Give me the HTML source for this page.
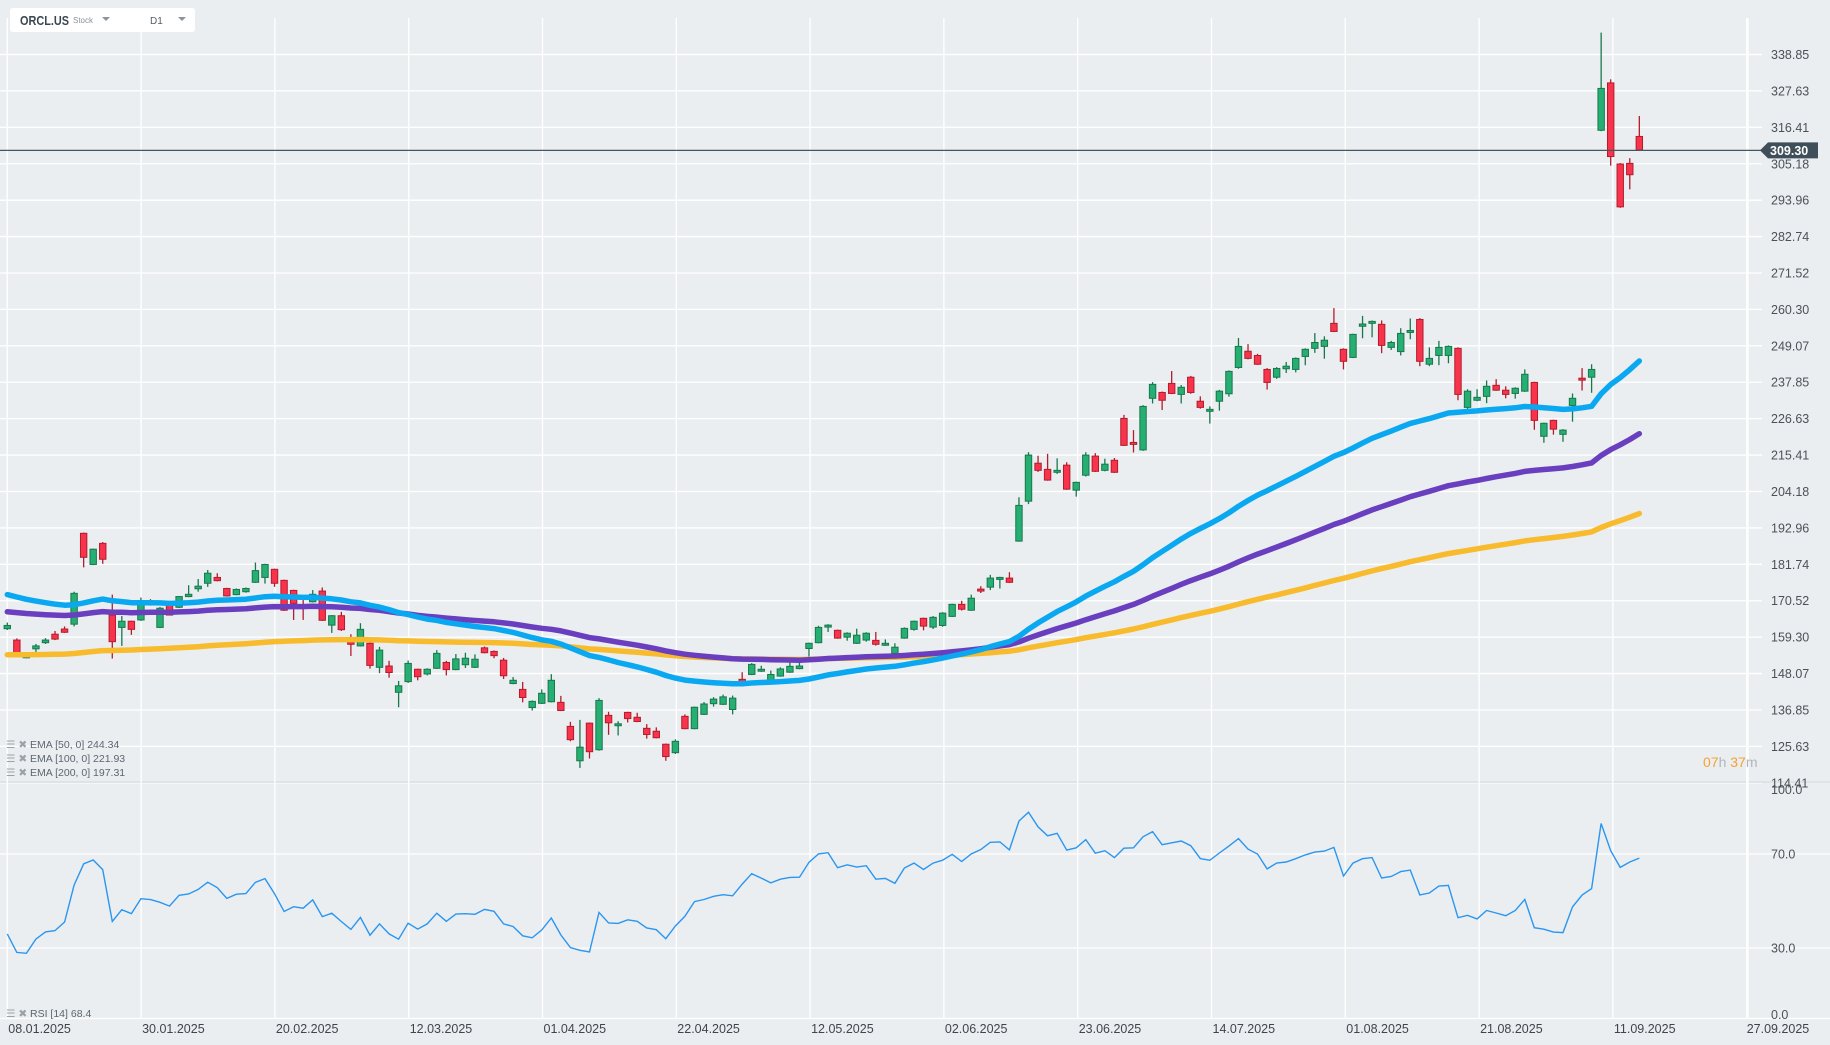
<!DOCTYPE html>
<html><head><meta charset="utf-8"><style>
html,body{margin:0;padding:0;background:#ebeef1;}
svg{display:block;font-family:"Liberation Sans",sans-serif;}
</style></head><body>
<svg id="chart" width="1830" height="1045" viewBox="0 0 1830 1045">
<rect x="0" y="0" width="1830" height="1045" fill="#ebeef1"/>
<g id="grid"></g>
<g id="candles"></g>
<g id="emas"></g>
<g id="rsi"></g>
<g id="axes"></g>
<g>
<rect x="10" y="8" width="185" height="24" rx="3" fill="#ffffff"/>
<text x="20" y="25" font-size="13" font-weight="bold" fill="#3a4650" textLength="49" lengthAdjust="spacingAndGlyphs">ORCL.US</text>
<text x="73" y="23" font-size="8" fill="#8a949c">Stock</text>
<path d="M102 17 L110 17 L106 21 Z" fill="#8a949c"/>
<text x="150" y="24" font-size="10" fill="#555e66">D1</text>
<path d="M178 17 L186 17 L182 21 Z" fill="#8a949c"/>
</g>
<g font-size="10.5" fill="#5c6670">
<text x="6" y="748" fill="#9aa2a8">☰ ✖</text>
<text x="30" y="748">EMA  [50,  0]  244.34</text>
<text x="6" y="762" fill="#9aa2a8">☰ ✖</text>
<text x="30" y="762">EMA  [100,  0]  221.93</text>
<text x="6" y="776" fill="#9aa2a8">☰ ✖</text>
<text x="30" y="776">EMA  [200,  0]  197.31</text>
<text x="6" y="1017" fill="#9aa2a8">☰ ✖</text>
<text x="30" y="1017">RSI  [14]  68.4</text>
</g>
<g font-size="14">
<text x="1703" y="767"><tspan fill="#f5a133">07</tspan><tspan fill="#b0b6bb">h </tspan><tspan fill="#f5a133">37</tspan><tspan fill="#b0b6bb">m</tspan></text>
</g>
</svg>
<script>
const opens=[161.9,158.4,153.0,155.7,157.6,160.2,161.8,163.3,191.3,181.7,188.2,166.1,162.3,164.2,164.6,170.0,162.3,169.7,168.5,171.8,174.2,175.9,177.7,174.3,172.4,173.3,176.2,177.7,180.2,176.8,173.7,169.2,170.2,173.5,163.0,165.9,158.9,156.6,157.4,150.0,150.4,142.3,145.6,149.4,147.95,149.7,151.5,149.3,150.8,150.0,156.0,154.9,152.2,145.0,143.2,137.6,138.9,139.4,139.2,131.8,121.2,132.8,124.6,135.2,132.0,136.1,134.6,131.2,130.3,126.3,123.7,134.9,131.1,135.5,138.8,138.6,137.0,146.3,147.8,148.8,146.1,147.3,148.5,149.6,155.8,157.6,162.4,161.4,159.3,157.4,158.4,158.3,156.8,154.3,159.0,161.7,165.1,162.4,162.9,165.7,169.4,167.6,174.1,174.7,177.1,177.5,188.9,201.2,212.9,211.0,210.1,212.3,204.6,209.2,215.1,210.7,213.8,226.7,219.3,217.0,232.9,234.7,237.5,234.1,239.4,232.0,228.9,232.0,234.3,242.4,247.4,246.1,241.8,239.4,242.0,241.8,245.8,248.3,248.9,256.0,248.0,245.5,255.1,256.0,255.7,248.6,247.3,253.2,257.2,243.4,246.1,246.1,248.3,230.1,232.3,233.5,236.9,235.4,234.4,235.1,237.8,221.2,226.1,221.8,230.7,239.1,239.4,315.5,330.1,305.1,305.3,313.6];
const closes=[162.9,153.8,153.3,156.6,158.4,158.7,160.8,172.8,183.9,186.4,183.3,157.9,164.2,161.7,170.2,169.7,168.2,166.1,171.8,172.5,175.0,179.0,176.7,172.0,174.0,174.3,179.8,181.7,175.9,167.6,169.7,169.0,172.5,164.5,165.9,161.6,157.1,161.7,150.6,155.3,148.4,144.3,151.2,147.1,149.4,154.3,149.3,152.6,152.8,152.5,154.5,153.6,147.4,146.0,140.7,139.5,142.0,146.0,136.7,127.7,125.4,124.0,139.8,132.9,132.6,134.2,133.3,129.3,128.3,122.5,127.2,131.1,137.7,138.7,140.2,140.9,140.5,145.6,150.9,149.4,147.8,149.5,150.3,150.4,157.4,162.3,163.0,159.0,160.5,159.9,160.5,157.1,157.4,156.2,162.0,164.2,162.7,165.4,166.7,169.4,167.9,171.3,173.5,177.5,177.7,176.2,199.9,215.4,210.7,207.7,210.7,204.9,207.0,215.4,210.4,212.6,210.1,218.4,218.7,230.4,237.2,232.3,234.4,236.3,234.7,230.1,229.5,235.1,241.2,248.9,245.2,243.4,237.8,242.1,242.8,245.2,248.0,250.1,250.8,253.5,244.3,252.6,255.8,256.6,249.2,250.1,252.9,253.8,244.3,245.2,248.6,248.9,234.1,235.1,233.2,236.6,235.4,234.1,236.0,240.3,226.1,225.2,223.4,223.1,232.9,238.5,241.8,328.4,307.4,291.9,301.8,309.4];
const highs=[163.8,158.9,153.6,157.2,159.0,161.2,162.6,173.3,191.5,186.6,188.6,172.4,165.8,164.4,171.5,171.0,168.6,170.0,172.0,175.3,177.2,180.0,179.0,174.5,174.3,174.6,182.3,181.9,180.4,177.0,173.9,171.5,173.8,174.6,166.1,167.1,160.2,163.6,157.6,156.3,152.0,145.8,152.1,149.6,149.7,155.3,152.0,154.1,154.5,154.0,156.4,155.2,152.9,147.0,145.5,139.8,143.2,147.9,141.2,133.2,133.8,133.0,140.5,136.3,133.4,136.3,136.0,132.5,131.5,126.5,127.8,135.5,137.9,139.3,140.8,141.6,141.3,148.5,151.3,150.5,149.0,150.0,151.5,151.6,157.6,162.8,163.3,161.6,160.8,161.9,160.8,160.9,158.6,157.4,162.3,164.4,165.3,165.8,167.0,169.6,170.5,172.4,175.0,178.5,177.9,179.3,202.4,216.3,215.2,215.8,214.4,213.2,207.2,216.3,216.0,214.3,214.5,227.8,223.1,230.8,237.9,235.0,241.3,237.0,239.8,233.5,230.4,235.5,241.5,251.5,249.6,246.6,242.2,242.5,244.1,245.5,248.3,253.0,252.0,260.7,248.3,252.8,258.3,256.9,256.9,250.6,254.5,257.5,257.6,248.6,250.6,249.2,248.6,235.7,235.7,238.4,238.8,236.6,236.3,241.8,238.0,225.4,226.3,223.4,234.4,242.2,243.4,345.6,331.2,305.4,306.9,319.9];
const lows=[161.5,153.3,152.8,154.2,157.2,158.4,160.6,162.6,180.8,181.5,181.9,152.7,156.6,160.0,164.3,169.0,162.1,166.0,168.3,171.6,173.3,174.8,176.5,171.8,172.2,173.0,176.0,175.8,174.8,167.4,164.6,164.6,170.0,164.3,160.6,161.2,153.5,156.4,149.6,148.2,146.8,137.7,145.2,146.0,147.5,149.5,147.5,149.1,149.8,149.8,154.3,152.8,146.4,144.8,139.2,136.7,138.7,139.2,136.5,127.2,119.0,121.9,124.3,129.2,129.0,133.0,133.1,128.0,128.1,121.2,123.3,130.9,130.9,135.3,137.9,138.4,135.5,145.4,147.6,148.6,145.9,147.1,148.3,149.4,153.2,157.4,160.9,158.8,158.2,157.2,157.9,156.7,156.6,154.1,158.8,161.3,161.4,161.8,162.5,165.5,167.5,167.4,172.9,173.8,174.3,176.0,188.7,200.3,210.2,207.5,209.6,204.7,202.6,208.8,210.2,210.4,209.9,218.2,216.2,216.7,231.3,229.3,234.2,231.3,234.3,229.7,225.1,229.1,233.4,242.0,244.9,243.2,235.6,238.9,240.7,240.9,243.1,246.9,245.1,253.3,241.8,245.3,251.4,251.7,246.8,247.8,246.1,251.1,242.8,242.8,243.1,243.7,232.3,229.5,232.0,231.4,235.2,232.9,232.8,234.9,223.2,219.2,221.7,219.5,225.7,235.3,234.6,315.2,304.6,291.6,297.3,309.2];
const priceTicks=[338.85,327.63,316.41,305.18,293.96,282.74,271.52,260.30,249.07,237.85,226.63,215.41,204.18,192.96,181.74,170.52,159.30,148.07,136.85,125.63,114.41];
const dateLabels=["08.01.2025","30.01.2025","20.02.2025","12.03.2025","01.04.2025","22.04.2025","12.05.2025","02.06.2025","23.06.2025","14.07.2025","01.08.2025","21.08.2025","11.09.2025","27.09.2025"];
const rsiTicks=[100,70,30,0];
const emaPeriods=[50,100,200];
const emaSeeds=[172.8,167.2,153.8];
const emaColors=["#0aa8f0","#6a3fbf","#f8bb2e"];
const rsiSeedGain=[0.9];
const rsiSeedLoss=[1.6];
const lastPrice=309.30;

const NS="http://www.w3.org/2000/svg";
function el(tag,attrs,parent){const e=document.createElementNS(NS,tag);for(const k in attrs)e.setAttribute(k,attrs[k]);parent.appendChild(e);return e;}
const xC=i=>7.3+i*9.544;
const yP=p=>54.5+(338.85-p)*3.245;
const yR=r=>1018.5-r*2.35;
const xD=k=>7.3+k*133.8;
const grid=document.getElementById('grid');
priceTicks.forEach(p=>{const l=el('line',{x1:0,x2:1762,y1:yP(p),y2:yP(p),stroke:'#ffffff','stroke-width':1.3},grid);

});
rsiTicks.forEach(r=>{const yy=r===100?782:yR(r);const l=el('line',{x1:0,x2:1830,y1:yy,y2:yy,stroke:r===100?'#dfe3e6':'#ffffff','stroke-width':r===100?2:1.3},grid);

});
dateLabels.forEach((d,k)=>{const l=el('line',{x1:xD(k),x2:xD(k),y1:18,y2:1019,stroke:'#ffffff','stroke-width':1.3},grid);

});
const cg=document.getElementById('candles');
closes.forEach((c,i)=>{const o=opens[i],up=c>=o,x=xC(i);
const g=el('g',{},cg);


const st=up?'#17784c':'#b31c2c',fi=up?'#27ae72':'#f8344c';
el('line',{x1:x,x2:x,y1:yP(highs[i]),y2:yP(lows[i]),stroke:st,'stroke-width':1.3},g);
const t=yP(Math.max(o,c)),b=yP(Math.min(o,c));
el('rect',{x:x-3.2,y:t,width:6.4,height:Math.max(b-t,1.2),fill:fi,stroke:st,'stroke-width':1},g);});
const eg=document.getElementById('emas');
const emaNames=['ema-50-line','ema-100-line','ema-200-line'];
[2,1,0].forEach(j=>{const k=2/(emaPeriods[j]+1);let e=emaSeeds[j];const pts=[];
closes.forEach((c,i)=>{e=c*k+e*(1-k);pts.push(xC(i).toFixed(1)+','+yP(e).toFixed(1));});
const pl=el('polyline',{points:pts.join(' '),fill:'none',stroke:emaColors[j],'stroke-width':5.5,'stroke-linejoin':'round','stroke-linecap':'round'},eg);

});
const rg=document.getElementById('rsi');
let ag=rsiSeedGain[0],al=rsiSeedLoss[0];const rp=[];
closes.forEach((c,i)=>{if(i>0){const d=c-closes[i-1];ag=(ag*13+Math.max(d,0))/14;al=(al*13+Math.max(-d,0))/14;}
const r=100-100/(1+ag/al);rp.push(xC(i).toFixed(1)+','+yR(r).toFixed(1));});
const rl=el('polyline',{points:rp.join(' '),fill:'none',stroke:'#2a96f0','stroke-width':1.4},rg);


const ax=document.getElementById('axes');
const al2=el('line',{x1:1748,x2:1748,y1:18,y2:1019,stroke:'#ffffff','stroke-width':1.3},ax);


priceTicks.forEach(p=>{const t=el('text',{x:1771,y:yP(p)+4.5,'font-size':12.5,fill:'#4a5258'},ax);t.textContent=p.toFixed(2);

});
rsiTicks.forEach(r=>{const t=el('text',{x:1771,y:(r===100?794:r===0?1019:yR(r)+4.5),'font-size':12.5,fill:'#4a5258'},ax);t.textContent=r.toFixed(1);

});
dateLabels.forEach((d,k)=>{const t=el('text',{x:xD(k)+(k===13?0:1),y:1033,'font-size':12.5,fill:'#3e464c'},ax);t.textContent=d;

});
const yl=yP(lastPrice);
const pl=el('line',{x1:0,x2:1762,y1:yl,y2:yl,stroke:'#46555f','stroke-width':1.3},ax);


const pb=el('path',{d:`M1760 ${yl} L1768 ${yl-8} L1818 ${yl-8} L1818 ${yl+8} L1768 ${yl+8} Z`,fill:'#3f4f5a'},ax);


const pt=el('text',{x:1770,y:yl+4.5,'font-size':12.5,'font-weight':'bold',fill:'#ffffff'},ax);pt.textContent=lastPrice.toFixed(2);


</script>
</body></html>
